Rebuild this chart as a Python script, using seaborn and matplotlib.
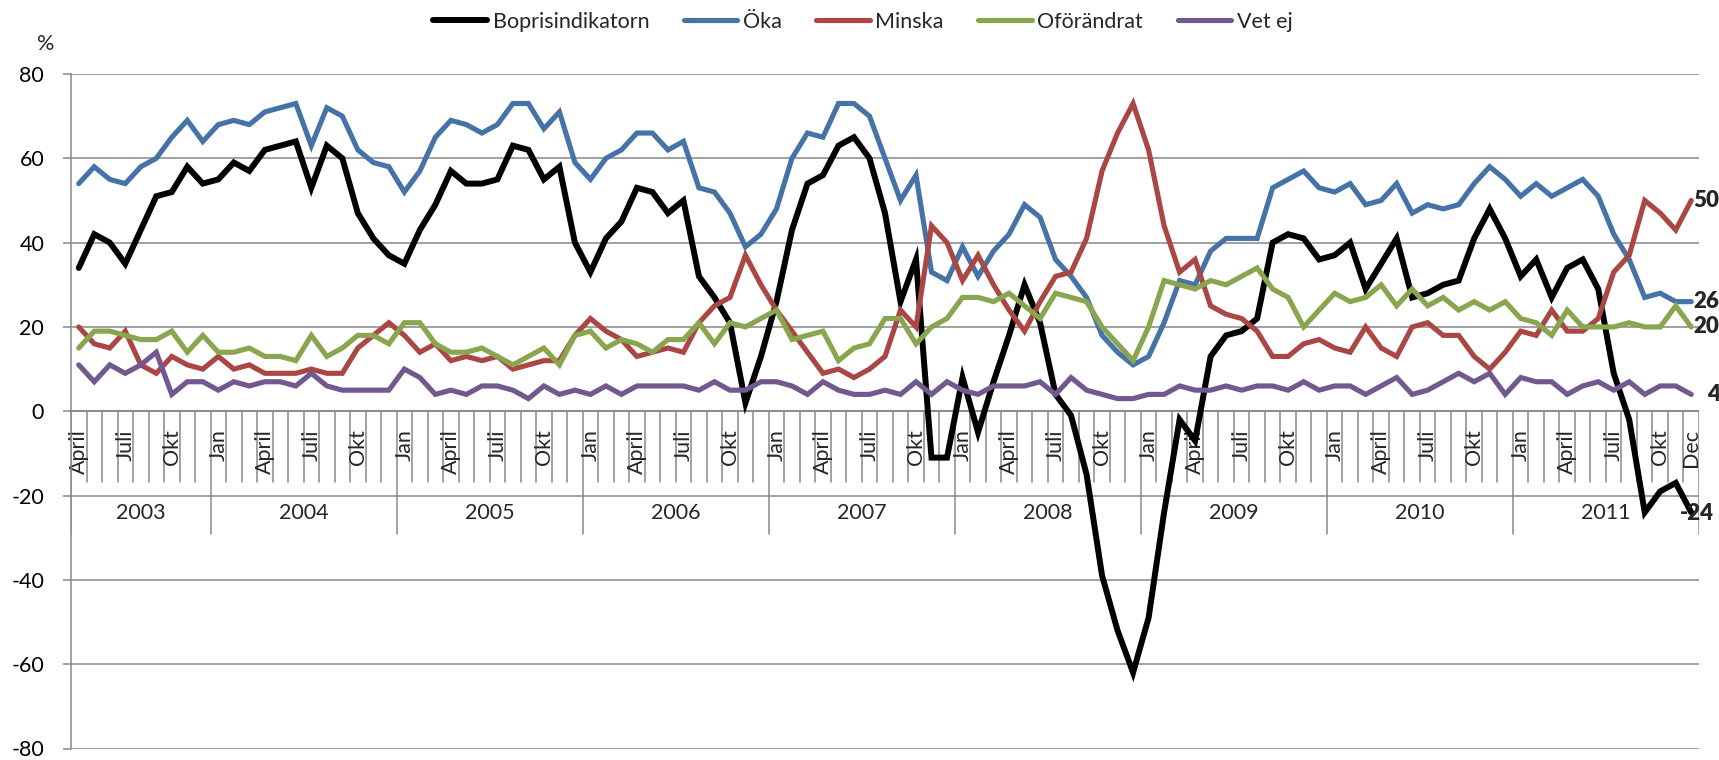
"""
Boprisindikatorn 2003-2011
Line chart of household expectations on house prices, month by month.
"""

import matplotlib
matplotlib.use("Agg")
import matplotlib.pyplot as plt
import pandas as pd
import seaborn as sns


# ----------------------------
# DATA (April 2003 - December 2011, one value per month)
# ----------------------------
years = [2003, 2004, 2005, 2006, 2007, 2008, 2009, 2010, 2011]
first_month = 4  # April 2003
month_labels = {1: "Jan", 4: "April", 7: "Juli", 10: "Okt"}
last_month_label = "Dec"

boprisindikatorn = [
    34, 42, 40, 35, 43, 51, 52, 58, 54, 55, 59, 57, 62, 63, 64, 53, 63, 60, 47,
    41, 37, 35, 43, 49, 57, 54, 54, 55, 63, 62, 55, 58, 40, 33, 41, 45, 53,
    52, 47, 50, 32, 27, 21, 2, 13, 26, 43, 54, 56, 63, 65, 60, 47, 26, 36,
    -11, -11, 8, -5, 7, 18, 30, 21, 4, -1, -15, -39, -52, -62, -49, -24, -2, -7,
    13, 18, 19, 22, 40, 42, 41, 36, 37, 40, 29, 35, 41, 27, 28, 30, 31, 41,
    48, 41, 32, 36, 27, 34, 36, 29, 9, -2, -24, -19, -17, -24,
]
oka = [
    54, 58, 55, 54, 58, 60, 65, 69, 64, 68, 69, 68, 71, 72, 73, 63, 72, 70, 62,
    59, 58, 52, 57, 65, 69, 68, 66, 68, 73, 73, 67, 71, 59, 55, 60, 62, 66,
    66, 62, 64, 53, 52, 47, 39, 42, 48, 60, 66, 65, 73, 73, 70, 60, 50, 56,
    33, 31, 39, 32, 38, 42, 49, 46, 36, 32, 27, 18, 14, 11, 13, 21, 31, 30,
    38, 41, 41, 41, 53, 55, 57, 53, 52, 54, 49, 50, 54, 47, 49, 48, 49, 54,
    58, 55, 51, 54, 51, 53, 55, 51, 42, 36, 27, 28, 26, 26,
]
minska = [
    20, 16, 15, 19, 11, 9, 13, 11, 10, 13, 10, 11, 9, 9, 9, 10, 9, 9, 15,
    18, 21, 18, 14, 16, 12, 13, 12, 13, 10, 11, 12, 12, 18, 22, 19, 17, 13,
    14, 15, 14, 21, 25, 27, 37, 30, 24, 19, 14, 9, 10, 8, 10, 13, 24, 20,
    44, 40, 31, 37, 30, 24, 19, 26, 32, 33, 41, 57, 66, 73, 62, 44, 33, 36,
    25, 23, 22, 19, 13, 13, 16, 17, 15, 14, 20, 15, 13, 20, 21, 18, 18, 13,
    10, 14, 19, 18, 24, 19, 19, 22, 33, 37, 50, 47, 43, 50,
]
oforandrat = [
    15, 19, 19, 18, 17, 17, 19, 14, 18, 14, 14, 15, 13, 13, 12, 18, 13, 15, 18,
    18, 16, 21, 21, 16, 14, 14, 15, 13, 11, 13, 15, 11, 18, 19, 15, 17, 16,
    14, 17, 17, 21, 16, 21, 20, 22, 24, 17, 18, 19, 12, 15, 16, 22, 22, 16,
    20, 22, 27, 27, 26, 28, 25, 22, 28, 27, 26, 20, 16, 12, 20, 31, 30, 29,
    31, 30, 32, 34, 29, 27, 20, 24, 28, 26, 27, 30, 25, 29, 25, 27, 24, 26,
    24, 26, 22, 21, 18, 24, 20, 20, 20, 21, 20, 20, 25, 20,
]
vet_ej = [
    11, 7, 11, 9, 11, 14, 4, 7, 7, 5, 7, 6, 7, 7, 6, 9, 6, 5, 5,
    5, 5, 10, 8, 4, 5, 4, 6, 6, 5, 3, 6, 4, 5, 4, 6, 4, 6,
    6, 6, 6, 5, 7, 5, 5, 7, 7, 6, 4, 7, 5, 4, 4, 5, 4, 7,
    4, 7, 5, 4, 6, 6, 6, 7, 4, 8, 5, 4, 3, 3, 4, 4, 6, 5,
    5, 6, 5, 6, 6, 5, 7, 5, 6, 6, 4, 6, 8, 4, 5, 7, 9, 7,
    9, 4, 8, 7, 7, 4, 6, 7, 5, 7, 4, 6, 6, 4,
]

series_names = ["Boprisindikatorn", "Öka", "Minska", "Oförändrat", "Vet ej"]
series_values = [boprisindikatorn, oka, minska, oforandrat, vet_ej]

# ----------------------------
# STYLE
# ----------------------------
colors = ["#000000", "#4572A7", "#AA4643", "#89A54E", "#71588F"]
widths = [4.3, 3.7, 3.7, 3.7, 3.7]
end_offsets = [(-8, -1), (1.3, 0), (1.3, 0), (1.3, 0), (11.5, 0)]
grid_color = "#878787"
font_size = 15.5

sns.set_theme(style="white")
plt.rcParams["font.family"] = ["Lato", "DejaVu Sans"]
plt.rcParams["axes.unicode_minus"] = False


def build_frame():
    """Long table: one row per month and series."""
    n = len(boprisindikatorn)
    rows = []
    for name, values in zip(series_names, series_values):
        for i in range(n):
            rows.append({"idx": i, "value": values[i], "serie": name})
    return pd.DataFrame(rows)


def month_of(i):
    return (first_month - 1 + i) % 12 + 1


def draw_category_axis(ax, n):
    """Excel-like two level category axis drawn at y = 0."""
    ax.axhline(0, color=grid_color, lw=1.1, zorder=1)
    for i in range(n + 1):
        b = i - 0.5
        m = month_of(i) if i < n else 1
        if m == 1 or i == 0 or i == n:
            ax.plot([b, b], [0, -29], color=grid_color, lw=1.1, zorder=1)
        else:
            ax.plot([b, b], [0, -16.7], color=grid_color, lw=1.1, zorder=1)

    for i in range(n):
        m = month_of(i)
        label = month_labels.get(m)
        if i == n - 1:
            label = last_month_label
        if label:
            ax.text(i, -4.3, label, rotation=90, ha="center", va="top",
                    fontsize=font_size, zorder=2)

    # year labels centred in each year's span
    for year in years:
        idx = [i for i in range(n) if years[0] + (first_month - 1 + i) // 12 == year]
        centre = (idx[0] + idx[-1]) / 2
        ax.text(centre, -24.2, str(year), ha="center", va="center",
                fontsize=font_size, zorder=2)


def main():
    df = build_frame()
    n = len(boprisindikatorn)

    fig = plt.figure(figsize=(17.19, 7.6), dpi=100)
    ax = fig.add_axes([71 / 1719, 1 - 748.5 / 760, 1628 / 1719, 674.5 / 760])

    series_lines = []
    for name, color, lw in zip(series_names, colors, widths):
        sub = df[df["serie"] == name]
        before = len(ax.lines)
        sns.lineplot(data=sub, x="idx", y="value", color=color,
                     label=name, ax=ax, zorder=3)
        line = ax.lines[before]
        line.set_linewidth(lw)
        line.set_solid_joinstyle("miter")
        series_lines.append(line)

    ax.set_xlim(-0.5, n - 0.5)
    ax.set_ylim(-80, 80)
    ax.set_yticks(range(-80, 81, 20))
    ax.set_xticks([])
    ax.set_xlabel("")
    ax.set_ylabel("")
    ax.yaxis.grid(True, color=grid_color, lw=1.1)
    ax.set_axisbelow(True)
    ax.tick_params(axis="y", left=True, length=5.8, width=1.1, color=grid_color,
                   pad=13.5, labelsize=font_size, labelcolor="black")
    for side in ["top", "right", "bottom"]:
        ax.spines[side].set_visible(False)
    ax.spines["left"].set_color(grid_color)
    ax.spines["left"].set_linewidth(1.1)

    draw_category_axis(ax, n)

    # end-of-series value labels
    for values, off in zip(series_values, end_offsets):
        ax.annotate(str(values[-1]), xy=(n - 1, values[-1]), xytext=off,
                    textcoords="offset points", ha="left", va="center",
                    fontsize=16, fontweight="heavy", annotation_clip=False,
                    zorder=5)

    fig.text(46 / 1719, 1 - 44 / 760, "%", ha="center", va="center", fontsize=font_size)

    ax.get_legend().remove()
    fig.legend(series_lines, series_names, loc="center",
               bbox_to_anchor=(0.502, 1 - 22 / 760),
               ncol=5, frameon=False, fontsize=font_size, handlelength=2.5,
               handletextpad=0.25, columnspacing=1.6)

    fig.savefig("out.png", dpi=100)
    plt.close(fig)


if __name__ == "__main__":
    main()
